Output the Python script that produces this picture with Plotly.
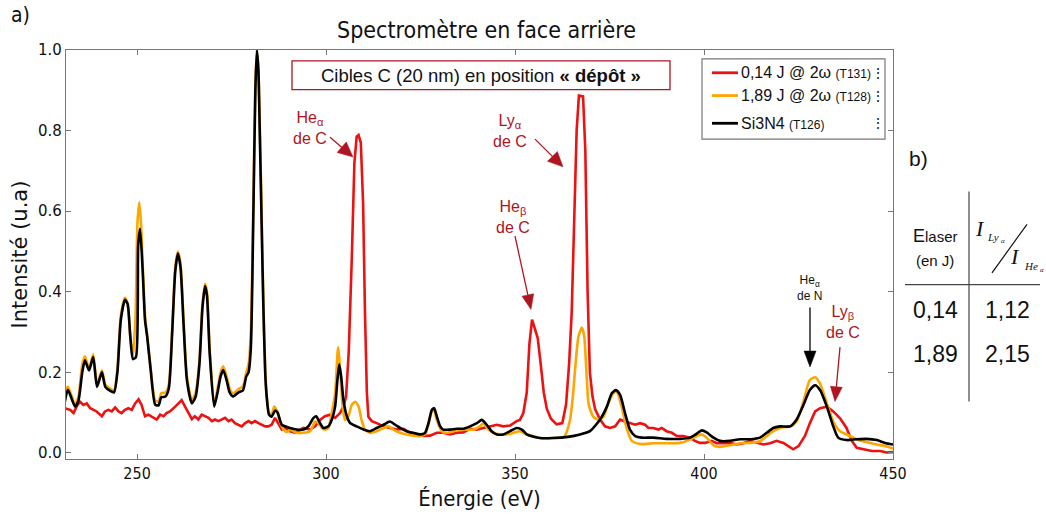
import math
import plotly.graph_objects as go

# ---------------- data ----------------
red_x = [230.95, 232.3, 233.2, 234.0, 234.9, 235.8, 236.7, 237.6, 238.5, 239.3, 240.7, 241.5, 242.4, 243.3,
         244.2, 245.1, 245.9, 246.8, 247.7, 248.6, 249.5, 250.4, 251.2, 252.1, 253.0, 254.3, 255.2, 256.1,
         257.0, 257.8, 258.7, 260.1, 260.9, 261.8, 262.7, 263.6, 264.5, 265.3, 266.2, 267.1, 268.0, 268.9,
         269.8, 270.6, 271.5, 272.4, 273.3, 274.2, 275.0, 275.9, 276.8, 277.7, 278.6, 279.5, 280.3, 281.2,
         282.1, 283.0, 283.9, 284.7, 285.6, 286.5, 287.4, 288.3, 289.2, 290.5, 291.8, 294.0, 295.8, 297.1,
         298.4, 299.7, 301.1, 302.4, 303.7, 304.6, 305.3, 306.0, 306.8, 307.5, 308.1, 308.6, 309.2, 309.8,
         310.3, 310.8, 311.2, 312.1, 313.4, 315.2, 316.9, 318.7, 320.5, 322.2, 324.0, 325.8, 327.5, 329.3,
         331.0, 332.8, 334.6, 336.3, 338.1, 339.9, 341.6, 343.4, 345.2, 346.9, 348.7, 350.4, 351.3, 352.2,
         353.1, 353.8, 354.5, 355.2, 356.0, 356.8, 357.6, 358.4, 359.5, 361.0, 362.5, 363.5, 364.3, 365.0,
         365.7, 366.3, 366.9, 368.0, 368.6, 369.2, 369.8, 370.5, 371.2, 372.5, 373.8, 375.1, 376.5, 377.8,
         379.1, 380.4, 381.8, 383.1, 384.4, 385.3, 386.6, 387.9, 388.8, 390.1, 391.5, 392.8, 394.5, 396.3,
         397.6, 398.9, 400.3, 402.0, 403.4, 405.1, 406.9, 408.6, 410.4, 412.2, 413.9, 415.7, 417.5, 419.2,
         421.0, 422.3, 423.6, 425.0, 426.7, 428.0, 429.4, 430.7, 432.5, 434.2, 436.0, 437.7, 439.1, 440.4,
         442.2, 444.4, 446.6, 448.3, 450.0]
red_y = [0.111, 0.107, 0.099, 0.115, 0.127, 0.119, 0.123, 0.111, 0.107, 0.103, 0.091, 0.103, 0.107, 0.103,
         0.113, 0.103, 0.099, 0.107, 0.111, 0.107, 0.123, 0.133, 0.119, 0.091, 0.095, 0.087, 0.083, 0.095,
         0.091, 0.099, 0.103, 0.115, 0.123, 0.131, 0.115, 0.099, 0.084, 0.091, 0.083, 0.095, 0.091, 0.087,
         0.079, 0.083, 0.079, 0.083, 0.087, 0.079, 0.083, 0.074, 0.070, 0.066, 0.074, 0.079, 0.074, 0.079,
         0.074, 0.070, 0.066, 0.066, 0.070, 0.087, 0.074, 0.058, 0.062, 0.054, 0.050, 0.062, 0.058, 0.066,
         0.082, 0.091, 0.095, 0.087, 0.099, 0.115, 0.140, 0.250, 0.480, 0.720, 0.785, 0.789, 0.770, 0.620,
         0.350, 0.150, 0.090, 0.079, 0.074, 0.066, 0.062, 0.058, 0.060, 0.050, 0.046, 0.042, 0.043, 0.050,
         0.050, 0.046, 0.050, 0.051, 0.060, 0.058, 0.062, 0.066, 0.070, 0.066, 0.068, 0.079, 0.082, 0.099,
         0.150, 0.270, 0.331, 0.310, 0.285, 0.220, 0.150, 0.110, 0.085, 0.071, 0.074, 0.120, 0.220, 0.350,
         0.620, 0.800, 0.887, 0.885, 0.750, 0.400, 0.200, 0.140, 0.108, 0.083, 0.066, 0.062, 0.066, 0.083,
         0.078, 0.074, 0.070, 0.074, 0.070, 0.062, 0.062, 0.058, 0.062, 0.054, 0.050, 0.042, 0.042, 0.038,
         0.030, 0.025, 0.025, 0.030, 0.024, 0.024, 0.025, 0.021, 0.024, 0.030, 0.025, 0.021, 0.024, 0.030,
         0.025, 0.017, 0.009, 0.017, 0.042, 0.074, 0.103, 0.111, 0.115, 0.103, 0.086, 0.062, 0.030, 0.013,
         0.009, 0.005, 0.005, 0.001, 0.002]

orange_x = [230.9, 231.7, 233.6, 234.5, 235.5, 236.2, 237.3, 238.4, 239.4, 240.7, 241.6, 242.9, 243.9, 244.8,
            245.7, 246.8, 247.5, 248.2, 248.9, 249.6, 250.1, 250.6, 251.1, 251.6, 252.2, 252.7, 253.6, 254.8,
            255.7, 256.4, 257.5, 258.4, 259.3, 260.1, 260.8, 261.5, 262.3, 263.2, 264.5, 265.5, 266.5, 267.3,
            268.0, 268.5, 269.2, 270.4, 271.3, 272.1, 272.8, 273.7, 274.5, 275.4, 276.8, 278.0, 278.9, 279.5,
            280.1, 280.8, 281.3, 281.7, 282.1, 282.5, 283.0, 283.4, 283.9, 284.3, 284.9, 285.6, 286.3, 287.2,
            287.9, 288.8, 289.7, 290.5, 292.2, 294.0, 295.8, 297.1, 298.0, 298.9, 299.7, 300.6, 301.5, 302.4,
            303.2, 304.4, 305.0, 305.9, 306.8, 307.7, 308.6, 309.4, 310.3, 311.6, 313.4, 315.2, 316.5, 317.8,
            319.6, 321.3, 323.1, 324.9, 326.2, 327.1, 328.0, 328.6, 329.3, 330.6, 331.9, 333.7, 335.5, 337.2,
            339.0, 340.7, 341.6, 343.0, 344.3, 346.0, 347.8, 349.6, 351.3, 353.1, 354.9, 356.6, 360.0, 363.0,
            364.5, 365.3, 366.0, 366.8, 367.7, 368.3, 368.9, 369.5, 370.7, 372.0, 373.4, 374.7, 376.0, 376.9,
            378.2, 379.5, 380.9, 383.1, 386.6, 390.1, 393.7, 396.3, 398.1, 399.4, 400.7, 402.5, 404.2, 406.9,
            409.5, 412.2, 414.8, 416.6, 418.3, 420.1, 422.8, 424.5, 426.3, 428.0, 429.4, 430.7, 432.5, 434.2,
            436.0, 437.7, 440.4, 443.0, 445.7, 447.9, 450.0]
orange_y = [0.150, 0.165, 0.120, 0.140, 0.220, 0.240, 0.210, 0.245, 0.170, 0.205, 0.170, 0.160, 0.155, 0.210,
            0.340, 0.385, 0.370, 0.290, 0.240, 0.340, 0.570, 0.622, 0.560, 0.440, 0.330, 0.290, 0.210, 0.130,
            0.128, 0.148, 0.150, 0.170, 0.310, 0.460, 0.500, 0.470, 0.330, 0.190, 0.130, 0.150, 0.230, 0.370,
            0.420, 0.400, 0.260, 0.120, 0.160, 0.200, 0.215, 0.190, 0.160, 0.148, 0.158, 0.165, 0.200, 0.220,
            0.300, 0.640, 0.920, 0.995, 0.950, 0.800, 0.570, 0.380, 0.210, 0.140, 0.100, 0.095, 0.115, 0.100,
            0.075, 0.058, 0.052, 0.058, 0.050, 0.050, 0.054, 0.078, 0.074, 0.062, 0.058, 0.062, 0.099, 0.148,
            0.262, 0.115, 0.082, 0.091, 0.119, 0.127, 0.115, 0.082, 0.058, 0.050, 0.054, 0.062, 0.066, 0.058,
            0.050, 0.046, 0.043, 0.042, 0.046, 0.070, 0.103, 0.105, 0.082, 0.054, 0.050, 0.054, 0.058, 0.058,
            0.058, 0.066, 0.073, 0.058, 0.050, 0.046, 0.046, 0.050, 0.054, 0.046, 0.042, 0.037, 0.037, 0.040,
            0.080, 0.140, 0.220, 0.290, 0.311, 0.290, 0.200, 0.120, 0.090, 0.083, 0.090, 0.124, 0.148, 0.152,
            0.115, 0.062, 0.030, 0.022, 0.024, 0.024, 0.025, 0.033, 0.042, 0.046, 0.038, 0.019, 0.015, 0.019,
            0.024, 0.025, 0.029, 0.042, 0.054, 0.062, 0.066, 0.078, 0.128, 0.181, 0.188, 0.172, 0.123, 0.078,
            0.054, 0.046, 0.034, 0.027, 0.021, 0.017, 0.011]

black_x = [230.9, 231.7, 233.6, 234.5, 235.5, 236.2, 237.3, 238.4, 239.4, 240.7, 241.6, 242.9, 243.9, 244.8,
           245.7, 246.8, 247.5, 248.2, 248.9, 249.7, 250.3, 250.8, 251.5, 252.1, 252.7, 253.6, 254.8, 255.7,
           256.4, 257.5, 258.4, 259.3, 260.1, 260.8, 261.5, 262.3, 263.2, 264.5, 265.5, 266.5, 267.3, 268.0,
           268.5, 269.2, 270.4, 271.3, 272.1, 272.8, 273.7, 274.5, 275.4, 276.8, 278.0, 278.9, 279.5, 280.1,
           280.8, 281.3, 281.7, 282.1, 282.5, 283.0, 283.4, 283.9, 284.3, 284.9, 285.6, 286.5, 287.2, 288.3,
           290.5, 292.2, 294.0, 295.3, 296.7, 297.4, 298.4, 299.3, 300.6, 301.5, 302.4, 303.0, 303.5, 304.0,
           304.6, 305.5, 306.4, 308.1, 309.9, 311.6, 313.4, 315.2, 316.9, 318.3, 319.6, 321.3, 323.1, 324.9,
           326.2, 327.1, 328.0, 328.6, 329.3, 330.2, 331.0, 332.8, 334.6, 336.3, 338.1, 339.9, 341.2, 342.5,
           343.8, 345.2, 346.9, 348.7, 350.4, 351.8, 353.1, 354.9, 356.6, 360.0, 364.0, 367.2, 369.8, 372.5,
           374.3, 375.6, 376.7, 377.8, 379.1, 380.4, 381.8, 383.5, 386.6, 390.1, 393.7, 396.3, 398.1, 399.4,
           400.7, 402.5, 404.2, 406.9, 409.5, 412.2, 414.8, 416.6, 418.3, 420.1, 422.8, 424.5, 426.3, 428.0,
           429.4, 430.7, 432.5, 434.2, 435.5, 437.7, 440.4, 443.0, 445.7, 447.9, 450.0]
black_y = [0.127, 0.157, 0.115, 0.130, 0.200, 0.230, 0.205, 0.238, 0.164, 0.200, 0.164, 0.154, 0.150, 0.200,
           0.330, 0.380, 0.370, 0.290, 0.233, 0.238, 0.515, 0.556, 0.450, 0.330, 0.287, 0.206, 0.120, 0.118,
           0.138, 0.140, 0.160, 0.300, 0.450, 0.495, 0.460, 0.320, 0.180, 0.123, 0.140, 0.220, 0.360, 0.414,
           0.390, 0.250, 0.115, 0.150, 0.190, 0.206, 0.180, 0.150, 0.140, 0.150, 0.155, 0.190, 0.200, 0.260,
           0.610, 0.900, 1.000, 0.950, 0.780, 0.550, 0.370, 0.200, 0.140, 0.095, 0.090, 0.105, 0.100, 0.070,
           0.062, 0.058, 0.058, 0.066, 0.087, 0.091, 0.074, 0.062, 0.066, 0.082, 0.115, 0.180, 0.220, 0.190,
           0.132, 0.091, 0.074, 0.066, 0.058, 0.054, 0.062, 0.070, 0.078, 0.070, 0.062, 0.054, 0.050, 0.046,
           0.050, 0.074, 0.107, 0.111, 0.091, 0.066, 0.058, 0.058, 0.060, 0.060, 0.066, 0.074, 0.082, 0.070,
           0.054, 0.046, 0.046, 0.054, 0.062, 0.058, 0.046, 0.040, 0.037, 0.037, 0.040, 0.046, 0.054, 0.083,
           0.115, 0.148, 0.156, 0.144, 0.099, 0.058, 0.042, 0.038, 0.038, 0.035, 0.035, 0.038, 0.048, 0.056,
           0.051, 0.038, 0.030, 0.030, 0.034, 0.034, 0.038, 0.050, 0.062, 0.066, 0.066, 0.083, 0.119, 0.156,
           0.168, 0.156, 0.115, 0.066, 0.038, 0.032, 0.034, 0.035, 0.032, 0.025, 0.021]

series_names = ["0,14 J @ 2ω", "1,89 J @ 2ω", "Si3N4"]
series_tags = ["(T131)", "(T128)", "(T126)"]
series_colors = ["#EE1111", "#FFA500", "#000000"]

x_ticks = [250, 300, 350, 400, 450]
x_ticktext = ["250", "300", "350", "400", "450"]
y_ticks = [0.0, 0.2, 0.4, 0.6, 0.8, 1.0]
y_ticktext = ["0.0", "0.2", "0.4", "0.6", "0.8", "1.0"]

table_header = ["(en J)"]
table_energy = ["0,14", "1,89"]
table_ratio = ["1,12", "2,15"]

DARKRED = "#AE1520"
AXC = "#777777"
SANS = "Liberation Sans, Arial, sans-serif"
COND = "DejaVu Sans Condensed, Liberation Sans Narrow, DejaVu Sans, sans-serif"
SERIF = "Liberation Serif, DejaVu Serif, serif"

fig = go.Figure()
for xs, ys, col, shape in [(red_x, red_y, series_colors[0], "linear"),
                           (orange_x, orange_y, series_colors[1], "spline"),
                           (black_x, black_y, series_colors[2], "spline")]:
    fig.add_trace(go.Scatter(x=xs, y=ys, mode="lines",
                             line=dict(color=col, width=2.6, shape=shape, smoothing=0.6),
                             showlegend=False, hoverinfo="skip"))

# ---------- layout geometry ----------
L, R, T, B = 66, 153, 50, 56
W, H = 1046, 519
PW, PH = W - L - R, H - T - B


def px(xp):
    return (xp - L) / PW


def py(yp):
    return (H - B - yp) / PH


shapes = []
ann = []

# title / panel labels
ann.append(dict(text="Spectromètre en face arrière", x=px(487), y=py(30), xref="paper", yref="paper",
                showarrow=False, font=dict(family=COND, size=23, color="#111"), xanchor="center", yanchor="middle"))
ann.append(dict(text="a)", x=px(20), y=py(15), xref="paper", yref="paper",
                showarrow=False, font=dict(family=COND, size=21, color="#111"), xanchor="center", yanchor="middle"))

# boxed caption
shapes.append(dict(type="rect", xref="paper", yref="paper", x0=px(292), x1=px(670), y0=py(90), y1=py(61),
                   line=dict(color=DARKRED, width=1.3), fillcolor="white", layer="above"))
ann.append(dict(text="Cibles C (20 nm) en position <b>« dépôt »</b>", x=px(481), y=py(76), xref="paper",
                yref="paper", showarrow=False, font=dict(family=SANS, size=18.5, color="#111"),
                xanchor="center", yanchor="middle"))

# legend (manual)
shapes.append(dict(type="rect", xref="paper", yref="paper", x0=px(702), x1=px(885), y0=py(140), y1=py(59),
                   line=dict(color=AXC, width=1.2), fillcolor="white", layer="above"))
for i, yy in enumerate([73, 96, 124]):
    shapes.append(dict(type="line", xref="paper", yref="paper", x0=px(712), x1=px(738), y0=py(yy), y1=py(yy),
                       line=dict(color=series_colors[i], width=2.8), layer="above"))
    ann.append(dict(text=f"{series_names[i]} <span style='font-size:12px'>{series_tags[i]}</span>",
                    x=px(739), y=py(yy), xref="paper", yref="paper", showarrow=False,
                    font=dict(family=SANS, size=16, color="#111"), xanchor="left", yanchor="middle"))
    ann.append(dict(text="⋮", x=px(878), y=py(yy), xref="paper", yref="paper", showarrow=False,
                    font=dict(family=SANS, size=14, color="#111"), xanchor="center", yanchor="middle"))

# line annotations (text)
labels = [("He<sub>α</sub><br>de C", 295.8, 0.806, 16, DARKRED),
          ("Ly<sub>α</sub><br>de C", 348.7, 0.799, 16, DARKRED),
          ("He<sub>β</sub><br>de C", 349.5, 0.586, 16, DARKRED),
          ("He<sub>α</sub><br>de N", 428.0, 0.409, 12, "#111"),
          ("Ly<sub>β</sub><br>de C", 436.8, 0.326, 16, DARKRED)]
for t, xx, yy, fs, c in labels:
    ann.append(dict(text=t, x=xx, y=yy, xref="x", yref="y", showarrow=False,
                    font=dict(family=SANS, size=fs, color=c), xanchor="center", yanchor="middle"))

# arrows drawn as shapes (pixel geometry: tail -> head tip)
arrows_px = [((330, 138), (353, 158), DARKRED, 15, 7),
             ((535, 140), (563, 168), DARKRED, 15, 7),
             ((515, 238), (531, 312), DARKRED, 15, 6),
             ((810, 310), (810, 370), "#000000", 16, 6),
             ((840, 350), (835, 405), DARKRED, 15, 6)]
for (tx, ty), (hx, hy), c, hl, hw in arrows_px:
    d = math.hypot(hx - tx, hy - ty)
    ux, uy = (hx - tx) / d, (hy - ty) / d
    bx, by = hx - ux * hl, hy - uy * hl
    nx, ny = -uy, ux
    shapes.append(dict(type="line", xref="paper", yref="paper", x0=px(tx), y0=py(ty), x1=px(bx), y1=py(by),
                       line=dict(color=c, width=1.3), layer="above"))
    path = (f"M {px(hx)} {py(hy)} L {px(bx + nx * hw)} {py(by + ny * hw)} "
            f"L {px(bx - nx * hw)} {py(by - ny * hw)} Z")
    shapes.append(dict(type="path", xref="paper", yref="paper", path=path, fillcolor=c,
                       line=dict(color=c, width=0.5), layer="above"))

# panel b) table
ann.append(dict(text="b)", x=px(918), y=py(160), xref="paper", yref="paper", showarrow=False,
                font=dict(family=SANS, size=21, color="#111"), xanchor="center", yanchor="middle"))
shapes.append(dict(type="line", xref="paper", yref="paper", x0=px(969), x1=px(969), y0=py(405), y1=py(193),
                   line=dict(color="#444", width=1.2)))
shapes.append(dict(type="line", xref="paper", yref="paper", x0=px(905), x1=px(1040), y0=py(287), y1=py(287),
                   line=dict(color="#444", width=1.2)))
ann.append(dict(text="E<span style='font-size:15px'>laser</span>", x=px(935), y=py(238), xref="paper",
                yref="paper", showarrow=False, font=dict(family=SANS, size=18, color="#111"),
                xanchor="center", yanchor="middle"))
ann.append(dict(text=table_header[0], x=px(935), y=py(263), xref="paper", yref="paper", showarrow=False,
                font=dict(family=SANS, size=15, color="#111"), xanchor="center", yanchor="middle"))
for i, yy in enumerate([313, 357]):
    ann.append(dict(text=table_energy[i], x=px(935), y=py(yy), xref="paper", yref="paper", showarrow=False,
                    font=dict(family=SANS, size=23, color="#111"), xanchor="center", yanchor="middle"))
    ann.append(dict(text=table_ratio[i], x=px(1007), y=py(yy), xref="paper", yref="paper", showarrow=False,
                    font=dict(family=SANS, size=23, color="#111"), xanchor="center", yanchor="middle"))
# ratio I_Lyα / I_Heα
shapes.append(dict(type="line", xref="paper", yref="paper", x0=px(992), x1=px(1027), y0=py(275), y1=py(226),
                   line=dict(color="#111", width=1.2)))
for t, xx, yy, fs in [("<i>I</i>", 980, 230, 22), ("<i>Ly</i>", 993, 239, 11), ("<i>α</i>", 1003, 243, 7),
                      ("<i>I</i>", 1015, 259, 22), ("<i>He</i>", 1031, 268, 11), ("<i>α</i>", 1042, 272, 7)]:
    ann.append(dict(text=t, x=px(xx), y=py(yy), xref="paper", yref="paper", showarrow=False,
                    font=dict(family=SERIF, size=fs, color="#111"), xanchor="center", yanchor="middle"))

fig.update_layout(
    width=W, height=H, margin=dict(l=L, r=R, t=T, b=B),
    paper_bgcolor="white", plot_bgcolor="white",
    shapes=shapes, annotations=ann, showlegend=False,
    xaxis=dict(range=[231.2, 450], tickvals=x_ticks, ticktext=x_ticktext, ticks="inside", ticklen=5,
               tickcolor=AXC, showline=True, linecolor=AXC, linewidth=1.3, mirror="ticks",
               showgrid=False, zeroline=False, tickfont=dict(family=COND, size=16, color="#111"),
               title=dict(text="Énergie (eV)", font=dict(family=COND, size=22, color="#111"), standoff=8)),
    yaxis=dict(range=[-0.015, 1.0], tickvals=y_ticks, ticktext=y_ticktext, ticks="inside", ticklen=5,
               tickcolor=AXC, showline=True, linecolor=AXC, linewidth=1.3, mirror="ticks",
               showgrid=False, zeroline=False, tickfont=dict(family="DejaVu Sans, sans-serif", size=15, color="#111"),
               title=dict(text="Intensité (u.a)", font=dict(family="DejaVu Sans, sans-serif", size=21, color="#111"),
                          standoff=4)),
)

fig.write_html("out.html", config={"displayModeBar": False},
               post_script="document.body.style.margin='0';document.body.style.overflow='hidden';")
